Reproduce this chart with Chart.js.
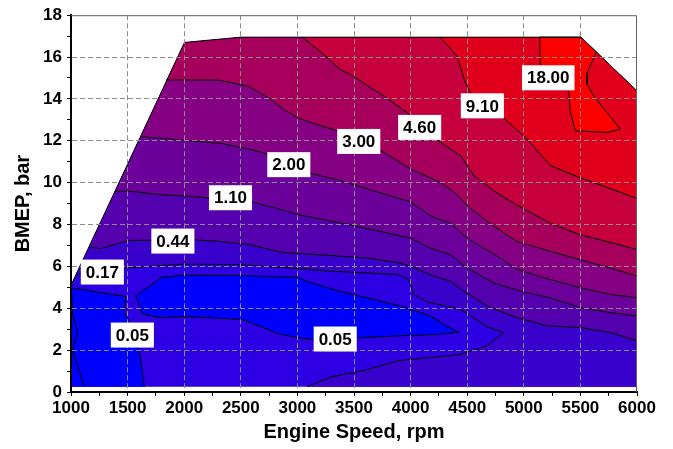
<!DOCTYPE html>
<html>
<head>
<meta charset="utf-8">
<script src="https://cdn.jsdelivr.net/npm/chart.js@4.4.1/dist/chart.umd.min.js"></script>
<style>
    body { margin: 0; background: #fff; }
    #wrap { width: 673px; height: 449px; }
</style>
</head>
<body>
<div id="wrap"><canvas id="map"></canvas></div>
<script>
"use strict";

// Engine map contours, every point is [rpm, bmep bar]
const outline = [[1000, 0.25], [1000, 5.1], [2003, 16.7], [2500, 16.95], [5505, 16.95], [6000, 14.38], [6000, 0.25]];
const upperCorners = [[6000, 0.25], [6000, 14.38], [5505, 16.95], [2500, 16.95], [2003, 16.7]];

const islandLeft = [[1000, 0.25], [1000, 4.98], [1486, 4.56], [1471, 3.79], [1500, 3.55], [1603, 1.98], [1648, 0.25]];
const stripLeft = [[1004, 4.9], [1015, 3.72], [1059, 2.84], [1015, 1.98], [1118, 0.25]];
const islandMid = [[1571, 4.6], [1806, 5.48], [2000, 5.58], [2500, 5.56], [3000, 5.48], [3101, 5.25], [3366, 4.82], [3616, 4.5],
    [3910, 4.11], [4175, 3.64], [4300, 3.2], [4425, 2.86], [4262, 2.76], [3910, 2.69], [3530, 2.58], [3150, 2.5], [3000, 2.6],
    [2820, 2.8], [2600, 3.3], [2500, 3.48], [2000, 3.6], [1792, 3.55], [1630, 3.74]];
const line017 = [[1043, 5.6], [1150, 5.78], [1468, 5.92], [2000, 6.11], [2500, 6.08], [3000, 5.9], [3300, 5.77], [3890, 5.61],
    [3984, 5.37], [4028, 4.66], [4150, 4.3], [4440, 3.95], [4689, 3.08], [4822, 2.84], [4675, 2.2], [4425, 1.78], [3896, 1.5],
    [3586, 1.03], [3290, 0.71], [3086, 0.25]];
const line044 = [[1160, 6.95], [1254, 6.84], [1512, 7.24], [2086, 7.27], [2321, 7.19], [2586, 7.03], [2851, 6.68], [3616, 6.4],
    [3910, 6.16], [3999, 6.0], [4205, 5.53], [4352, 5.29], [4468, 4.82], [4705, 4.03], [4940, 3.55], [5205, 3.16], [5499, 3.08],
    [5764, 2.84], [6000, 2.45]];
const line110 = [[1388, 9.6], [1527, 9.59], [1792, 9.43], [2027, 9.36], [2586, 9.09], [2821, 8.77], [2998, 8.48], [3469, 7.98],
    [3999, 7.35], [4175, 6.87], [4352, 6.56], [4499, 5.92], [4734, 5.21], [4969, 4.82], [5234, 4.5], [5499, 4.03], [5764, 3.79],
    [6000, 3.63]];
const line200 = [[1615, 12.2], [2027, 12.01], [2321, 11.88], [2571, 11.61], [2733, 11.37], [2923, 10.9], [3116, 10.45], [3380, 10.1],
    [3704, 9.56], [3999, 9.08], [4190, 8.37], [4352, 8.06], [4499, 7.35], [4793, 6.4], [4940, 5.85], [5234, 5.37], [5499, 4.98],
    [5764, 4.66], [6000, 4.5]];
const line300 = [[1842, 14.91], [2306, 14.9], [2571, 14.6], [2763, 13.98], [2880, 13.5], [3000, 13.1], [3116, 12.88], [3351, 12.48],
    [3542, 12.0], [3763, 11.45], [3999, 10.66], [4262, 10.02], [4381, 9.56], [4499, 8.93], [4675, 8.14], [4940, 7.19], [5234, 6.72],
    [5499, 6.32], [5764, 5.92], [6000, 5.53]];
const line460 = [[3042, 16.95], [3219, 16.19], [3380, 15.4], [3469, 15.17], [3763, 14.14], [3969, 13.35], [4262, 11.93], [4440, 11.3],
    [4557, 10.35], [4747, 9.56], [4940, 8.93], [5234, 8.06], [5499, 7.51], [5793, 7.11], [6000, 6.8]];
const line910 = [[4262, 16.95], [4410, 16.04], [4484, 14.77], [4528, 14.3], [4822, 13.08], [5028, 12.09], [5234, 10.82], [5499, 10.23],
    [5764, 9.72], [6000, 9.24]];
const island18 = [[5140, 16.95], [5505, 16.95], [5640, 16.25], [5617, 15.95], [5558, 15.24], [5558, 14.69], [5617, 14.14], [5852, 12.56],
    [5735, 12.4], [5455, 12.48], [5411, 13.4], [5396, 14.38], [5146, 15.64]];

// Contour level labels (white boxes)
const labelText = ["0.05", "0.05", "0.17", "0.44", "1.10", "2.00", "3.00", "4.60", "9.10", "18.00"];
const labelRpm = [1542, 3334, 1277, 1900, 2409, 2924, 3542, 4080, 4634, 5216];
const labelBmep = [2.72, 2.53, 5.73, 7.21, 9.28, 10.86, 11.97, 12.64, 13.67, 15.01];

const xTicks = [1000, 1500, 2000, 2500, 3000, 3500, 4000, 4500, 5000, 5500, 6000];
const yTicks = [0, 2, 4, 6, 8, 10, 12, 14, 16, 18];

// Band colours, lowest to highest
const bandColors = ["#2c00e2", "#0000ff", "#3a00cc", "#5400ae", "#6c009a", "#860084", "#a6005c", "#c6003c", "#e0001c", "#ff0000"];


const toXY = pts => pts.map(([x, y]) => ({x: x, y: y}));

// Close a contour line round the upper/right side of the map outline
function closeUpper(line) {
    const x0 = line[0][0];
    const [x1, y1] = line[line.length - 1];
    const extra = upperCorners.filter(([cx, cy]) => cx === 6000 ? (x1 < 6000 || cy > y1) : cx > x0);
    return line.concat(extra);
}

// Painter's order: each layer covers everything at or above its level
const fillLayers = [
    outline,
    islandLeft,
    islandMid,
    closeUpper(line017),
    closeUpper(line044),
    closeUpper(line110),
    closeUpper(line200),
    closeUpper(line300),
    closeUpper(line460),
    closeUpper(line910),
    island18
];
const layerColors = [bandColors[0], bandColors[1], bandColors[1]].concat(bandColors.slice(2));

const strokeLines = [
    outline.slice(1, 6),
    islandLeft.slice(1),
    stripLeft,
    islandMid.concat([islandMid[0]]),
    line017, line044, line110, line200, line300, line460, line910,
    island18.concat([island18[0]])
];

const datasets = [];
fillLayers.forEach((pts, i) => {
    datasets.push({
        data: toXY(pts),
        showLine: true,
        fill: "shape",
        backgroundColor: layerColors[i],
        borderWidth: 0,
        pointRadius: 0,
        order: 100 - i
    });
});
strokeLines.forEach(pts => {
    datasets.push({
        data: toXY(pts),
        showLine: true,
        fill: false,
        borderColor: "#000",
        borderWidth: 1,
        pointRadius: 0,
        order: 0
    });
});

// Level labels drawn on top of everything
const contourLabels = {
    id: "contourLabels",
    afterDraw(chart) {
        const {ctx, scales: {x, y}} = chart;
        ctx.save();
        ctx.font = "bold 17px 'Liberation Sans', Arial, sans-serif";
        ctx.textAlign = "center";
        ctx.textBaseline = "middle";
        labelText.forEach((t, i) => {
            const px = x.getPixelForValue(labelRpm[i]);
            const py = y.getPixelForValue(labelBmep[i]);
            const w = ctx.measureText(t).width + 10;
            ctx.fillStyle = "#fff";
            ctx.fillRect(px - w / 2, py - 12.5, w, 25);
            ctx.fillStyle = "#000";
            ctx.fillText(t, px, py + 1);
        });
        ctx.restore();
    }
};

// thin frame on top and right
const frame = {
    id: "frame",
    afterDraw(chart) {
        const {ctx, chartArea: a} = chart;
        ctx.save();
        ctx.strokeStyle = "#606060";
        ctx.lineWidth = 1;
        ctx.beginPath();
        ctx.moveTo(a.left, a.top + 0.5);
        ctx.lineTo(a.right - 0.5, a.top + 0.5);
        ctx.lineTo(a.right - 0.5, a.bottom);
        ctx.stroke();
        ctx.restore();
    }
};

Chart.defaults.font.family = "'Liberation Sans', Arial, sans-serif";
Chart.defaults.font.weight = "bold";
Chart.defaults.color = "#000";

new Chart(document.getElementById("map"), {
    type: "scatter",
    data: {datasets: datasets},
    options: {
        responsive: true,
        maintainAspectRatio: false,
        animation: false,
        layout: {padding: {top: 12, right: 36, bottom: 0, left: 0}},
        plugins: {legend: {display: false}, tooltip: {enabled: false}},
        scales: {
            x: {
                type: "linear",
                min: 1000,
                max: 6000,
                afterFit: s => { s.height = 57; },
                ticks: {
                    stepSize: 250,
                    autoSkip: false,
                    maxRotation: 0,
                    padding: 2,
                    z: 1,
                    font: {size: 17, weight: "bold"},
                    callback: v => xTicks.includes(v) ? String(v) : ""
                },
                grid: {
                    z: 1,       // dashed grid sits over the coloured map
                    color: c => (c.tick && xTicks.includes(c.tick.value) && c.tick.value !== 6000) ? "#8c8c8c" : "rgba(0,0,0,0)",
                    tickColor: "#000",
                    tickLength: 4
                },
                border: {color: "#000", width: 2, dash: [5, 3], z: 2},
                title: {display: true, text: "Engine Speed, rpm", font: {size: 20, weight: "bold"}, padding: {top: 0, bottom: 5}}
            },
            y: {
                min: 0,
                max: 18,
                afterFit: s => { s.width = 71; },
                ticks: {
                    stepSize: 1,
                    autoSkip: false,
                    padding: 5,
                    z: 1,
                    font: {size: 17, weight: "bold"},
                    callback: v => yTicks.includes(v) ? String(v) : ""
                },
                grid: {
                    z: 1,
                    color: c => (c.tick && yTicks.includes(c.tick.value) && c.tick.value !== 18) ? "#8c8c8c" : "rgba(0,0,0,0)",
                    tickColor: "#000",
                    tickLength: 4
                },
                border: {color: "#000", width: 2, dash: [5, 3], z: 2},
                title: {display: true, text: "BMEP, bar", font: {size: 20, weight: "bold"}, padding: {top: 11, bottom: 0}}
            }
        }
    },
    plugins: [contourLabels, frame]
});
</script>
</body>
</html>
